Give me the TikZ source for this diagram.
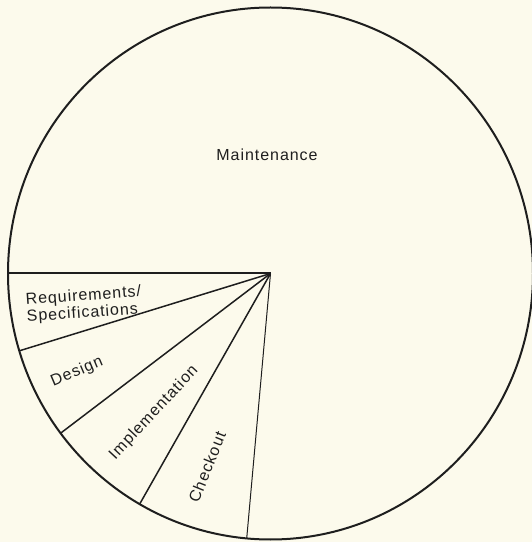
\documentclass[tikz,border=0pt]{standalone}
\usepackage{fontspec}
\setmainfont{Liberation Sans}[LetterSpace=6]
\definecolor{paper}{RGB}{252,250,236}
\definecolor{ink}{RGB}{30,30,30}
\begin{document}
\begin{tikzpicture}[x=1pt,y=1pt,
  rim/.style={draw=ink,line width=2pt},
  spoke/.style={draw=ink,line width=1.5pt},
  thinspoke/.style={draw=ink,line width=1pt},
  lbl/.style={text=ink,inner sep=0pt,font=\fontsize{16}{17}\selectfont}]
\fill[paper] (0,0) rectangle (532,542);
\useasboundingbox (0,0) rectangle (532,542);
\coordinate (c) at (270.5,268.5);
\draw[rim] (c) ellipse [x radius=262.5pt, y radius=266pt];
\coordinate (p0) at ([shift={(180:262.5pt and 266pt)}]c);
\coordinate (p1) at ([shift={(196.9:262.5pt and 266pt)}]c);
\coordinate (p2) at ([shift={(216.9:262.5pt and 266pt)}]c);
\coordinate (p3) at ([shift={(240.1:262.5pt and 266pt)}]c);
\coordinate (p4) at ([shift={(264.8:262.5pt and 266pt)}]c);
\draw[spoke,line width=2pt] (c) -- (p0);
\draw[spoke] (c) -- (p1);
\draw[spoke] (c) -- (p2);
\draw[spoke] (c) -- (p3);
\draw[thinspoke] (c) -- (p4);
\node[lbl] (maint) at (267,387) {Maintenance};
\node[lbl,align=left,rotate=4] (req) at (84,237) {Requirements/\\Specifications};
\node[lbl,rotate=23] (design) at (77,170) {Design};
\node[lbl,rotate=47] (impl) at (154,129) {Implementation};
\node[lbl,rotate=68] (check) at (207,75) {Checkout};
\end{tikzpicture}
\end{document}
